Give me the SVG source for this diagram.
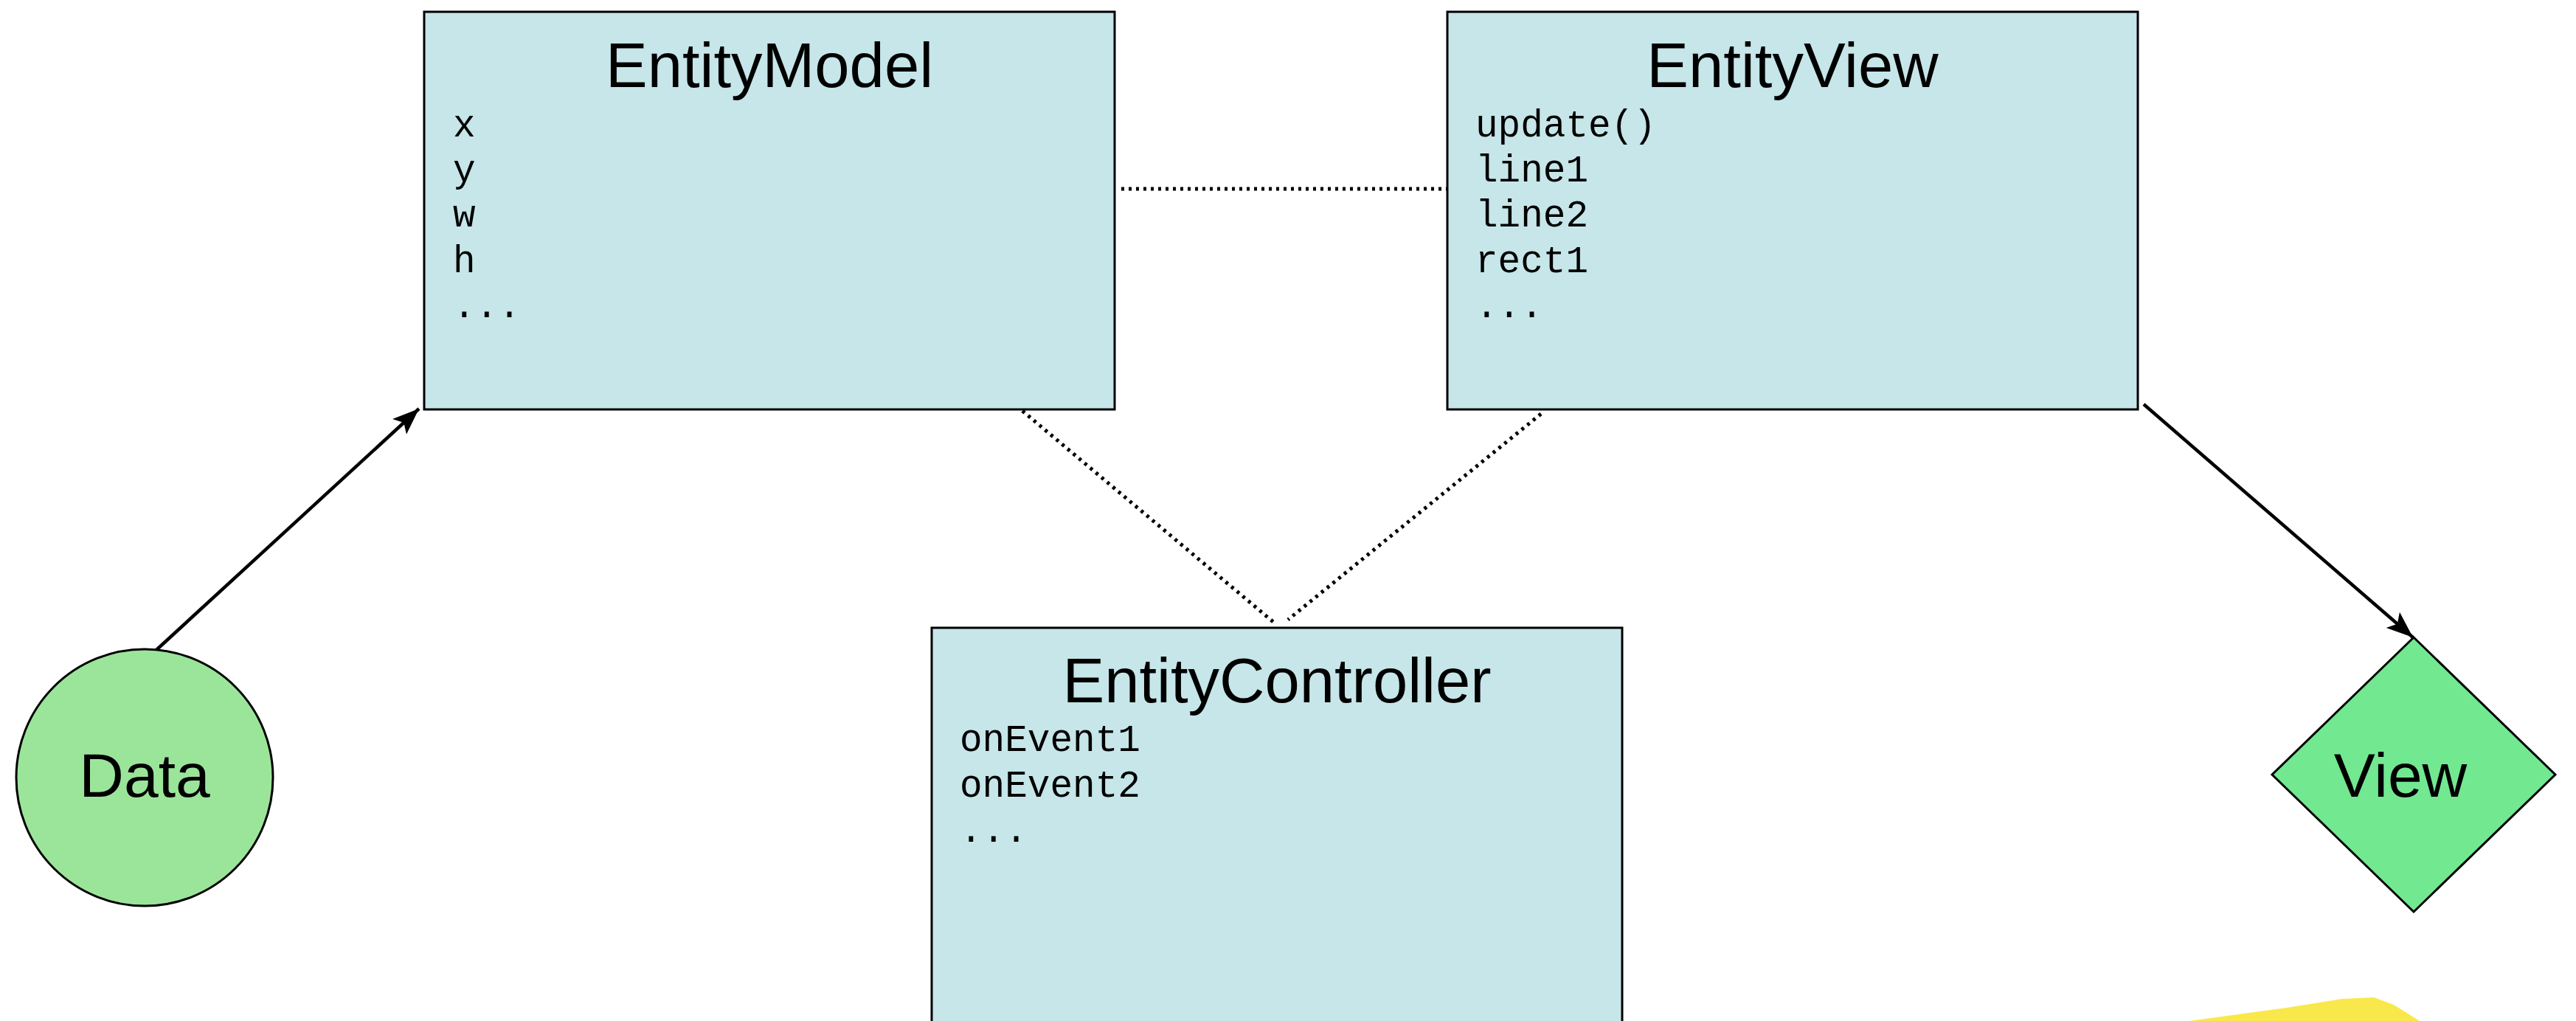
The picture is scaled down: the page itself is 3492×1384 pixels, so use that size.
<svg xmlns="http://www.w3.org/2000/svg" width="3492" height="1384" viewBox="0 0 3492 1384">
  <defs>
    <style>
      .box { fill: #C6E6E9; stroke: #000; stroke-width: 3; }
      .title { font-family: "Liberation Sans", Arial, sans-serif; font-size: 85px; fill: #000; text-anchor: middle; }
      .label { font-family: "Liberation Sans", Arial, sans-serif; font-size: 84px; fill: #000; text-anchor: middle; }
      .mono { font-family: "Liberation Mono", "Courier New", monospace; font-size: 51px; fill: #000; }
      .solid { stroke: #000; stroke-width: 4.5; fill: none; }
      .dotted { stroke: #000; stroke-width: 5; fill: none; stroke-dasharray: 4 6; }
    </style>
    <marker id="arrow" markerUnits="userSpaceOnUse" markerWidth="40" markerHeight="40" viewBox="0 0 40 40" refX="36" refY="20" orient="auto">
      <path d="M0,6 L36,20 L0,34 L8,20 Z" fill="#000"/>
    </marker>
  </defs>
  <rect width="3492" height="1384" fill="#FFFFFF"/>

  <g id="connectors">
    <line class="dotted" x1="1520" y1="256" x2="1962" y2="256"/>
    <line class="dotted" x1="1386" y1="557" x2="1726" y2="843"/>
    <line class="dotted" x1="2089" y1="561" x2="1746" y2="840"/>
    <line class="solid" x1="212" y1="881" x2="568" y2="554" marker-end="url(#arrow)"/>
    <line class="solid" x1="2906" y1="548" x2="3271" y2="864" marker-end="url(#arrow)"/>
  </g>

  <g id="entity-model">
    <rect class="box" x="575" y="16" width="936" height="539"/>
    <text class="title" x="1043" y="118">EntityModel</text>
    <text class="mono" x="614" y="185">x</text>
    <text class="mono" x="614" y="246">y</text>
    <text class="mono" x="614" y="307">w</text>
    <text class="mono" x="614" y="369">h</text>
    <text class="mono" x="614" y="430">...</text>
  </g>

  <g id="entity-view">
    <rect class="box" x="1962" y="16" width="936" height="539"/>
    <text class="title" x="2430" y="118">EntityView</text>
    <text class="mono" x="2000" y="185">update()</text>
    <text class="mono" x="2000" y="246">line1</text>
    <text class="mono" x="2000" y="307">line2</text>
    <text class="mono" x="2000" y="369">rect1</text>
    <text class="mono" x="2000" y="430">...</text>
  </g>

  <g id="entity-controller">
    <rect class="box" x="1263" y="851" width="936" height="600"/>
    <text class="title" x="1731" y="952">EntityController</text>
    <text class="mono" x="1301" y="1018">onEvent1</text>
    <text class="mono" x="1301" y="1080">onEvent2</text>
    <text class="mono" x="1301" y="1141">...</text>
  </g>

  <g id="data">
    <circle cx="196" cy="1054" r="174" fill="#9BE59B" stroke="#000" stroke-width="3"/>
    <text class="label" x="196" y="1080">Data</text>
  </g>

  <g id="view">
    <polygon points="3272,864 3464,1050 3272,1236 3080,1050" fill="#72E891" stroke="#000" stroke-width="3"/>
    <text class="label" x="3254" y="1080">View</text>
  </g>

  <path d="M2968,1384 L3100,1366 L3175,1354 L3218,1352 L3245,1362 L3280,1384 Z" fill="#F9E84B"/>
</svg>
